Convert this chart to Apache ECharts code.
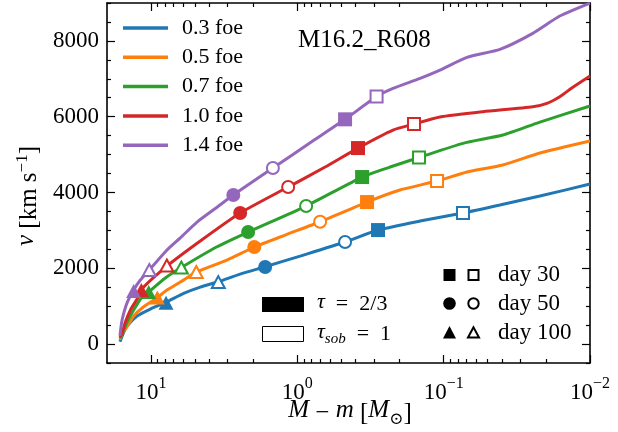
<!DOCTYPE html>
<html><head><meta charset="utf-8">
<script src="https://cdn.jsdelivr.net/npm/echarts@6/dist/echarts.min.js"></script>
<style>html,body{margin:0;padding:0;background:#fff}#c{width:618px;height:432px}</style>
</head><body><div id="c"></div>
<script>
// ---------------- data ----------------
const energies = ['0.3 foe', '0.5 foe', '0.7 foe', '1.0 foe', '1.4 foe'];
const colors = ['#1f77b4', '#ff7f0e', '#2ca02c', '#d62728', '#9467bd'];

// curves: M - m [Msun] and v [km/s]
const mass03 = [16.3, 15.46, 14.58, 12.46, 10.11, 7.86, 5.99, 4.61, 3.47, 2.46, 1.66, 0.957, 0.472, 0.281, 0.145, 0.0738, 0.0413, 0.022, 0.01];
const vel03  = [60, 290, 475, 739, 924, 1108, 1338, 1504, 1644, 1847, 2040, 2322, 2692, 3008, 3246, 3457, 3668, 3906, 4222];
const mass05 = [16.3, 15.70, 14.58, 13.15, 11.23, 9.06, 7.78, 6.31, 4.91, 3.03, 1.97, 1.211, 0.699, 0.334, 0.199, 0.111, 0.0693, 0.0394, 0.022, 0.01];
const vel05  = [110, 290, 457, 739, 984, 1227, 1425, 1636, 1900, 2217, 2560, 2877, 3227, 3747, 4064, 4302, 4539, 4724, 5040, 5357];
const mass07 = [16.3, 15.38, 14.58, 13.15, 11.65, 10.38, 7.99, 6.21, 3.54, 2.17, 0.871, 0.361, 0.2326, 0.1474, 0.0738, 0.0394, 0.022, 0.01];
const vel07  = [150, 369, 581, 897, 1214, 1372, 1742, 2019, 2568, 2956, 3642, 4407, 4671, 4922, 5296, 5516, 5858, 6281];
const mass10 = [16.3, 15.78, 14.98, 13.85, 12.46, 11.23, 7.78, 4.61, 2.46, 1.156, 0.646, 0.385, 0.222, 0.1595, 0.106, 0.0539, 0.0246, 0.0197, 0.0161, 0.0131, 0.01];
const vel10  = [180, 290, 581, 897, 1187, 1503, 2058, 2718, 3457, 4143, 4671, 5172, 5647, 5806, 5990, 6131, 6263, 6352, 6527, 6775, 7073];
const mass14 = [16.3, 15.9, 15.38, 14.52, 13.15, 11.83, 10.28, 7.78, 6.31, 4.85, 3.64, 2.74, 1.47, 0.818, 0.472, 0.2875, 0.222, 0.145, 0.106, 0.0693, 0.0413, 0.0246, 0.0161, 0.01];
const vel14  = [220, 560, 810, 1108, 1425, 1689, 1953, 2481, 2802, 3219, 3576, 3932, 4645, 5310, 5930, 6532, 6748, 7012, 7231, 7566, 7777, 8200, 8656, 8999];

// markers, order: day30 (tau=2/3), day30 (tau_sob=1), day50 (2/3), day50 (sob), day100 (2/3), day100 (sob)
const markMass03 = [0.281, 0.0738, 1.66, 0.472, 7.9, 3.47];
const markVel03  = [3008, 3457, 2032, 2692, 1090, 1636];
const markMass05 = [0.334, 0.111, 1.97, 0.699, 9.06, 4.91];
const markVel05  = [3747, 4302, 2560, 3227, 1227, 1900];
const markMass07 = [0.361, 0.1474, 2.17, 0.871, 10.38, 6.21];
const markVel07  = [4407, 4922, 2956, 3642, 1372, 2019];
const markMass10 = [0.385, 0.1595, 2.46, 1.156, 11.65, 7.80];
const markVel10  = [5172, 5806, 3457, 4143, 1425, 2072];
const markMass14 = [0.472, 0.2875, 2.74, 1.47, 13.15, 10.28];
const markVel14  = [5930, 6532, 3932, 4645, 1399, 1953];
const markSymbols = ['rect', 'rect', 'circle', 'circle', 'triangle', 'triangle'];
const markFilled  = [true, false, true, false, true, false];

// ticks and texts
const xMajorTicks = [10, 1, 0.1, 0.01];
const yMajorTicks = [0, 2000, 4000, 6000, 8000];
const dayLabels = ['day 30', 'day 50', 'day 100'];
const tauLabels = ['{i|τ}\u2002=\u20022/3', '{i|τ}{sub|sob}\u2002=\u20021'];
const modelName = 'M16.2_R608';

// ---------------- build ----------------
const FONT = '"Liberation Serif", "DejaVu Serif", serif';
const xMinorTicks = [];
for (let d = -2; d <= 1; d++) for (let k = 2; k <= 9; k++) { const v = k * Math.pow(10, d); if (v < 20) xMinorTicks.push(+v.toPrecision(3)); }
const yMinorTicks = [];
for (let v = -500; v <= 9000; v += 500) if (v % 2000 !== 0) yMinorTicks.push(v);

const curves = [[mass03, vel03], [mass05, vel05], [mass07, vel07], [mass10, vel10], [mass14, vel14]];
const marks = [[markMass03, markVel03], [markMass05, markVel05], [markMass07, markVel07], [markMass10, markVel10], [markMass14, markVel14]];

const series = [];
curves.forEach((c, i) => {
  series.push({
    name: energies[i], type: 'line', xAxisIndex: 0, yAxisIndex: 0,
    data: c[0].map((m, j) => [m, c[1][j]]),
    showSymbol: false, symbol: 'none', smooth: 0.2, z: 2,
    lineStyle: { color: colors[i], width: 3 }, itemStyle: { color: colors[i] }
  });
});
marks.forEach((mk, i) => {
  series.push({
    name: energies[i] + ' markers', type: 'scatter', xAxisIndex: 0, yAxisIndex: 0, z: 3,
    itemStyle: { opacity: 1 },
    data: mk[0].map((m, j) => ({
      value: [m, mk[1][j]],
      symbol: markSymbols[j],
      symbolSize: markSymbols[j] === 'rect' ? (markFilled[j] ? 14 : 12) : (markSymbols[j] === 'circle' ? (markFilled[j] ? 14 : 12) : (markFilled[j] ? [15, 14] : [13, 12])),
      itemStyle: markFilled[j] ? { color: colors[i], borderWidth: 0, opacity: 1 } : { color: '#fff', borderColor: colors[i], borderWidth: 2, opacity: 1 }
    }))
  });
});

const lineStyleBlack = { color: '#000', width: 1.6 };
const tickStyle = { color: '#000', width: 1.2 };
const xLabelRich = {
  b: { fontFamily: FONT, fontSize: 23, lineHeight: 28, verticalAlign: 'bottom', color: '#000' },
  s: { fontFamily: FONT, fontSize: 16, lineHeight: 14, verticalAlign: 'top', color: '#000' }
};
function xAx(pos, major) {
  return {
    type: 'log', inverse: true, min: 0.01, max: 20, position: pos, gridIndex: 0,
    axisLine: { show: major, onZero: false, lineStyle: lineStyleBlack },
    axisTick: { show: true, inside: true, length: major ? 8 : 4, customValues: major ? xMajorTicks : xMinorTicks, lineStyle: tickStyle },
    axisLabel: (major && pos === 'bottom') ? {
      show: true, customValues: xMajorTicks, margin: 13,
      formatter: v => { const e = Math.round(Math.log10(v)); return '{b|10}{s|' + (e < 0 ? '−' + (-e) : e) + '}'; },
      rich: xLabelRich
    } : { show: false },
    splitLine: { show: false }, minorTick: { show: false }
  };
}
function yAx(pos, major) {
  return {
    type: 'value', min: -500, max: 9000, position: pos, gridIndex: 0,
    axisLine: { show: major, onZero: false, lineStyle: lineStyleBlack },
    axisTick: { show: true, inside: true, length: major ? 8 : 4, customValues: major ? yMajorTicks : yMinorTicks, lineStyle: tickStyle },
    axisLabel: (major && pos === 'left') ? {
      show: true, customValues: yMajorTicks, margin: 8, color: '#000', fontFamily: FONT, fontSize: 23,
      formatter: v => String(v)
    } : { show: false },
    splitLine: { show: false }
  };
}

const txt = (x, y, text, extra) => Object.assign({
  type: 'text', x: x, y: y, z: 10,
  style: Object.assign({ text: text, fill: '#000', font: '22px ' + FONT, align: 'left', verticalAlign: 'middle' }, extra || {})
});
const richBase = {
  i: { fontFamily: FONT, fontSize: 22, fontStyle: 'italic', lineHeight: 26, verticalAlign: 'top', fill: '#000' },
  sub: { fontFamily: FONT, fontSize: 15, fontStyle: 'italic', lineHeight: 14, verticalAlign: 'bottom', fill: '#000' }
};
const richBig = {
  i: { fontFamily: FONT, fontSize: 25, fontStyle: 'italic', lineHeight: 30, verticalAlign: 'top', fill: '#000' },
  s: { fontFamily: FONT, fontSize: 17, lineHeight: 15, verticalAlign: 'top', fill: '#000' },
  sub2: { fontFamily: FONT, fontSize: 17, lineHeight: 15, verticalAlign: 'bottom', fill: '#000' }
};

const graphic = [
  // axis names
  { type: 'text', x: 29, y: 196, rotation: Math.PI / 2, z: 10,
    style: { text: '{i|v} [km\u2005s{s|−1}]', rich: richBig, fill: '#000', font: '25px ' + FONT, lineHeight: 30, align: 'center', verticalAlign: 'middle' } },
  { type: 'text', x: 350, y: 413, z: 10,
    style: { text: '{i|M}\u2005−\u2005{i|m}\u2005[{i|M}{sub2|⊙}]', rich: richBig, fill: '#000', font: '25px ' + FONT, lineHeight: 30, align: 'center', verticalAlign: 'middle' } },
  // tau legend
  { type: 'rect', z: 10, shape: { x: 262, y: 297, width: 42, height: 15 }, style: { fill: '#000' } },
  { type: 'rect', z: 10, shape: { x: 262.5, y: 326.5, width: 41, height: 15 }, style: { fill: '#fff', stroke: '#000', lineWidth: 1 } },
  txt(317, 304, tauLabels[0], { rich: richBase, lineHeight: 26 }),
  txt(317, 334, tauLabels[1], { rich: richBase, lineHeight: 26 }),
  // day legend
  { type: 'rect', z: 10, shape: { x: 443.5, y: 269, width: 12, height: 12 }, style: { fill: '#000' } },
  { type: 'rect', z: 10, shape: { x: 468.5, y: 270, width: 10, height: 10 }, style: { fill: '#fff', stroke: '#000', lineWidth: 2 } },
  { type: 'circle', z: 10, shape: { cx: 449.5, cy: 303.5, r: 6.3 }, style: { fill: '#000' } },
  { type: 'circle', z: 10, shape: { cx: 473.5, cy: 303.5, r: 5.2 }, style: { fill: '#fff', stroke: '#000', lineWidth: 2 } },
  { type: 'polygon', z: 10, shape: { points: [[449.5, 326], [443, 338.5], [456, 338.5]] }, style: { fill: '#000' } },
  { type: 'polygon', z: 10, shape: { points: [[473.5, 327.3], [468, 337.5], [479, 337.5]] }, style: { fill: '#fff', stroke: '#000', lineWidth: 2 } },
  txt(498, 275, dayLabels[0], { font: '23px ' + FONT }),
  txt(498, 303.5, dayLabels[1], { font: '23px ' + FONT }),
  txt(498, 332.5, dayLabels[2], { font: '23px ' + FONT })
];

const option = {
  animation: false,
  backgroundColor: '#fff',
  grid: { left: 107, right: 28, top: 3, bottom: 69, containLabel: false },
  title: { text: modelName, left: 298, top: 27, padding: 0,
    textStyle: { fontFamily: FONT, fontSize: 25, fontWeight: 'normal', color: '#000', lineHeight: 27 } },
  legend: {
    data: energies, left: 123, top: 17, orient: 'vertical', itemGap: 7.3, itemWidth: 45, itemHeight: 3.5,
    icon: 'rect', padding: 0, selectedMode: false,
    textStyle: { fontFamily: FONT, fontSize: 22, lineHeight: 22, color: '#000', padding: [0, 0, 0, 9] }
  },
  xAxis: [xAx('bottom', true), xAx('bottom', false), xAx('top', true), xAx('top', false)],
  yAxis: [yAx('left', true), yAx('left', false), yAx('right', true), yAx('right', false)],
  series: series,
  graphic: graphic
};

const chart = echarts.init(document.getElementById('c'), null, { renderer: 'canvas' });
chart.setOption(option);
</script>
</body></html>
